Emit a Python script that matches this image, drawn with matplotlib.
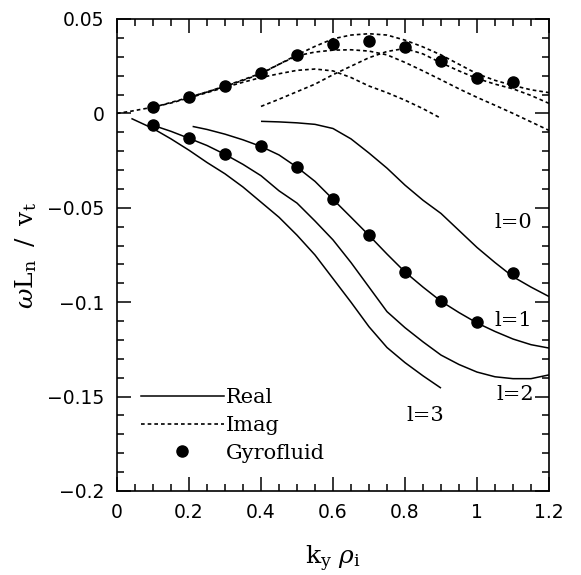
import matplotlib
matplotlib.use("Agg")
import matplotlib.pyplot as plt
from matplotlib.lines import Line2D
from matplotlib.ticker import MultipleLocator, FixedLocator, FixedFormatter

# ---------------- data ----------------
# Real parts (solid lines)
x_re_l0 = [0.40, 0.45, 0.50, 0.55, 0.60, 0.65, 0.70, 0.75, 0.80, 0.85, 0.90, 0.95, 1.00, 1.05, 1.10, 1.15, 1.20]
y_re_l0 = [-0.0042, -0.0045, -0.0050, -0.0058, -0.0080, -0.0135, -0.0210, -0.0290, -0.0380, -0.0460,
           -0.0530, -0.0620, -0.0710, -0.0790, -0.0865, -0.0920, -0.0970]

x_re_l1 = [0.21, 0.25, 0.30, 0.35, 0.40, 0.45, 0.50, 0.55, 0.60, 0.65, 0.70, 0.75, 0.80, 0.85, 0.90, 0.95, 1.00, 1.05, 1.10, 1.15, 1.20]
y_re_l1 = [-0.0069, -0.0085, -0.0110, -0.0140, -0.0175, -0.0220, -0.0285, -0.0360, -0.0455, -0.0550, -0.0646,
           -0.0745, -0.0840, -0.0920, -0.0995, -0.1055, -0.1110, -0.1155, -0.1195, -0.1225, -0.1243]

x_re_l2 = [0.10, 0.15, 0.20, 0.25, 0.30, 0.35, 0.40, 0.45, 0.50, 0.55, 0.60, 0.65, 0.70, 0.75, 0.80, 0.85, 0.90, 0.95, 1.00, 1.05, 1.10, 1.15, 1.20]
y_re_l2 = [-0.0063, -0.0095, -0.0132, -0.0170, -0.0217, -0.0270, -0.0330, -0.0410, -0.0475, -0.0570, -0.0670,
           -0.0790, -0.0920, -0.1050, -0.1135, -0.1210, -0.1280, -0.1330, -0.1370, -0.1395, -0.1405, -0.1405, -0.1385]

x_re_l3 = [0.04, 0.10, 0.15, 0.20, 0.25, 0.30, 0.35, 0.40, 0.45, 0.50, 0.55, 0.60, 0.65, 0.70, 0.75, 0.80, 0.85, 0.90]
y_re_l3 = [-0.0027, -0.0080, -0.0135, -0.0195, -0.0260, -0.0320, -0.0390, -0.0470, -0.0550, -0.0645, -0.0750,
           -0.0875, -0.1000, -0.1130, -0.1240, -0.1320, -0.1390, -0.1455]

# Imaginary parts (dotted lines)
x_im_l0 = [0.40, 0.45, 0.50, 0.55, 0.60, 0.65, 0.70, 0.75, 0.80, 0.85, 0.90, 0.95, 1.00, 1.05, 1.10, 1.15, 1.20]
y_im_l0 = [0.0037, 0.0075, 0.0115, 0.0155, 0.0205, 0.0250, 0.0295, 0.0328, 0.0344, 0.0315, 0.0268,
           0.0225, 0.0185, 0.0155, 0.0130, 0.0095, 0.0053]

x_im_l1 = [0.20, 0.25, 0.30, 0.35, 0.40, 0.45, 0.50, 0.55, 0.60, 0.65, 0.70, 0.75, 0.80, 0.85, 0.90, 0.95, 1.00, 1.05, 1.10, 1.15, 1.20]
y_im_l1 = [0.0085, 0.0114, 0.0145, 0.0178, 0.0213, 0.0260, 0.0310, 0.0355, 0.0395, 0.0415, 0.0422,
           0.0415, 0.0388, 0.0352, 0.0310, 0.0260, 0.0210, 0.0175, 0.0148, 0.0125, 0.0110]

x_im_l2 = [0.10, 0.15, 0.20, 0.25, 0.30, 0.35, 0.40, 0.45, 0.50, 0.55, 0.60, 0.65, 0.70, 0.75, 0.80, 0.85, 0.90, 0.95, 1.00, 1.05, 1.10, 1.15, 1.20]
y_im_l2 = [0.0032, 0.0058, 0.0085, 0.0113, 0.0143, 0.0175, 0.0210, 0.0260, 0.0305, 0.0325, 0.0335, 0.0337,
           0.0330, 0.0310, 0.0270, 0.0225, 0.0178, 0.0130, 0.0085, 0.0043, 0.0000, -0.0045, -0.0090]

x_im_l3 = [0.00, 0.04, 0.10, 0.15, 0.20, 0.25, 0.30, 0.35, 0.40, 0.45, 0.50, 0.55, 0.60, 0.65, 0.70, 0.75, 0.80, 0.85, 0.90]
y_im_l3 = [0.0000, 0.0012, 0.0033, 0.0055, 0.0082, 0.0110, 0.0138, 0.0165, 0.0190, 0.0210, 0.0228, 0.0235,
           0.0225, 0.0190, 0.0145, 0.0110, 0.0070, 0.0025, -0.0026]

# Gyrofluid points
x_gf = [0.1, 0.2, 0.3, 0.4, 0.5, 0.6, 0.7, 0.8, 0.9, 1.0, 1.1]
y_gf_re = [-0.0063, -0.0132, -0.0217, -0.0175, -0.0285, -0.0455, -0.0646, -0.0840, -0.0995, -0.1106, -0.0847]
y_gf_im = [0.0032, 0.0085, 0.0143, 0.0212, 0.0307, 0.0370, 0.0386, 0.0350, 0.0275, 0.0185, 0.0164]

# curve labels
curve_labels = ["l=0", "l=1", "l=2", "l=3"]
label_x = [1.10, 1.10, 1.105, 0.856]
label_y = [-0.058, -0.1095, -0.149, -0.160]

x_ticks = [0, 0.2, 0.4, 0.6, 0.8, 1.0, 1.2]
x_ticklabels = ["0", "0.2", "0.4", "0.6", "0.8", "1", "1.2"]
y_ticks = [0.05, 0, -0.05, -0.1, -0.15, -0.2]
y_ticklabels = ["0.05", "0", "\u22120.05", "\u22120.1", "\u22120.15", "\u22120.2"]

# ---------------- plotting ----------------
plt.rcParams["mathtext.fontset"] = "dejavuserif"
fig = plt.figure(figsize=(5.81, 5.75), dpi=100)
ax = fig.add_axes([117 / 581, 1 - 491 / 575, 432 / 581, 472 / 575])

lw = 1.1
dot = (0, (2.2, 1.8))
for xs, ys in [(x_re_l0, y_re_l0), (x_re_l1, y_re_l1), (x_re_l2, y_re_l2), (x_re_l3, y_re_l3)]:
    ax.plot(xs, ys, color="black", lw=lw, solid_capstyle="butt")
for xs, ys in [(x_im_l0, y_im_l0), (x_im_l1, y_im_l1), (x_im_l2, y_im_l2), (x_im_l3, y_im_l3)]:
    ax.plot(xs, ys, color="black", lw=1.2, linestyle=dot)
ax.plot(x_gf, y_gf_re, "o", color="black", ms=8)
ax.plot(x_gf, y_gf_im, "o", color="black", ms=8)

for t, lx, ly in zip(curve_labels, label_x, label_y):
    ax.text(lx, ly, t, ha="center", va="center", fontsize=15, family="DejaVu Serif")

ax.set_xlim(0, 1.2)
ax.set_ylim(-0.2, 0.05)
ax.xaxis.set_major_locator(FixedLocator(x_ticks))
ax.xaxis.set_major_formatter(FixedFormatter(x_ticklabels))
ax.xaxis.set_minor_locator(MultipleLocator(0.05))
ax.yaxis.set_major_locator(FixedLocator(y_ticks))
ax.yaxis.set_major_formatter(FixedFormatter(y_ticklabels))
ax.yaxis.set_minor_locator(MultipleLocator(0.01))
ax.tick_params(which="both", direction="in", top=True, right=True, width=1.1)
ax.tick_params(which="major", length=10, pad=9, labelsize=13.5)
ax.tick_params(which="minor", length=5)
for lab in ax.get_xticklabels() + ax.get_yticklabels():
    lab.set_family("DejaVu Sans")
for s in ax.spines.values():
    s.set_linewidth(1.2)

ax.set_xlabel(r"$\mathrm{k_y}\ \rho_\mathrm{i}$", fontsize=18, labelpad=15)
ax.set_ylabel(r"$\omega\mathrm{L_n}\;\;/\;\;\mathrm{v_t}$", fontsize=18, labelpad=6)

handles = [Line2D([], [], color="black", lw=lw),
           Line2D([], [], color="black", lw=1.2, linestyle=dot),
           Line2D([], [], color="black", marker="o", ms=8, linestyle="none")]
leg = ax.legend(handles, ["Real", "Imag", "Gyrofluid"], loc="upper left",
                bbox_to_anchor=(0.055, 0.218), frameon=False, borderpad=0, borderaxespad=0,
                handlelength=4.0, handletextpad=0.1, labelspacing=0.42,
                prop={"family": "DejaVu Serif", "size": 15})

fig.savefig("out.png", dpi=100)
